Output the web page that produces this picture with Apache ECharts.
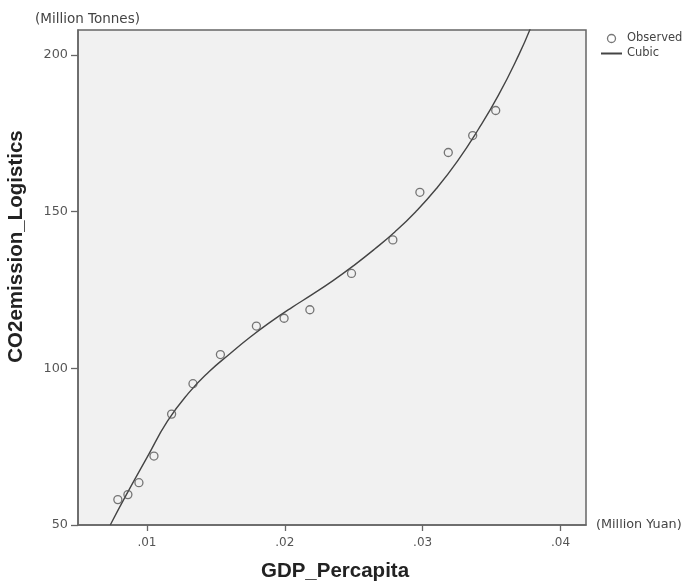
<!DOCTYPE html>
<html>
<head>
<meta charset="utf-8">
<script src="https://cdn.jsdelivr.net/npm/echarts@6/dist/echarts.min.js"></script>
<style>
  html, body { margin: 0; padding: 0; background: #fff; }
  #chart { width: 688px; height: 583px; }
</style>
</head>
<body>
<div id="chart"></div>
<script>
// Observed points
const gdpObserved = [0.00789, 0.00862, 0.00942, 0.01051, 0.01179, 0.01334, 0.01533, 0.01794,
                     0.01995, 0.02182, 0.02484, 0.02784, 0.02980, 0.03186, 0.03363, 0.03530];
const co2Observed = [58.1, 59.7, 63.5, 72.0, 85.4, 95.1, 104.4, 113.5,
                     116.0, 118.7, 130.3, 141.0, 156.2, 168.9, 174.3, 182.3];
// Cubic fit line
const gdpCurve = [0.00734, 0.0085, 0.0100, 0.0115, 0.0130, 0.0145, 0.0160, 0.0175, 0.0190,
                  0.0205, 0.0220, 0.0235, 0.0250, 0.0265, 0.0280, 0.0295, 0.0310, 0.0325,
                  0.0340, 0.0355, 0.0370, 0.0378];
const co2Curve = [50, 59.6, 71.5, 83.2, 92.0, 98.9, 104.6, 110.0, 114.9,
                  119.4, 123.6, 128.0, 132.8, 138.0, 143.6, 150.0, 157.4, 166.0,
                  176.0, 187.2, 200.3, 208.3];
// Tick labels
const xTicks = [0.01, 0.02, 0.03, 0.04];
const yTicks = [50, 100, 150, 200];

const observed = gdpObserved.map((x, i) => [x, co2Observed[i]]);
const cubic = gdpCurve.map((x, i) => [x, co2Curve[i]]);

const chart = echarts.init(document.getElementById('chart'), null, { renderer: 'canvas' });
const labelFont = 'DejaVu Sans';
const titleFont = 'Liberation Sans';
const xMin = 0.005, xMax = 0.04185;
const markStyle = { color: 'rgba(0,0,0,0)', borderColor: '#555', borderWidth: 1.3 };

chart.setOption({
  animation: false,
  backgroundColor: '#ffffff',
  title: [{
    text: '(Million Tonnes)',
    left: 35, top: 12, padding: 0,
    textStyle: { fontFamily: labelFont, fontSize: 13.5, fontWeight: 'normal', color: '#444' }
  }],
  legend: {
    orient: 'vertical',
    left: 600, top: 32, padding: 0,
    itemWidth: 21, itemHeight: 8, itemGap: 2,
    textStyle: { fontFamily: labelFont, fontSize: 11.5, color: '#444', lineHeight: 13 },
    data: [
      { name: 'Observed', icon: 'circle', itemStyle: markStyle },
      { name: 'Cubic', itemStyle: { color: 'rgba(0,0,0,0)', borderWidth: 0, opacity: 0 } }
    ]
  },
  grid: {
    left: 78, right: 102, top: 30, bottom: 58,
    outerBoundsMode: 'none', containLabel: false,
    show: true, backgroundColor: '#f1f1f1', borderColor: '#666', borderWidth: 1.5
  },
  xAxis: [{
    type: 'value', min: xMin, max: xMax,
    name: '(Million Yuan)', nameLocation: 'end', nameGap: 10,
    nameTextStyle: { fontFamily: labelFont, fontSize: 12.8, color: '#444', verticalAlign: 'middle' },
    splitLine: { show: false },
    axisLine: { lineStyle: { color: '#666', width: 1.5 } },
    axisTick: { customValues: xTicks, length: 6, lineStyle: { color: '#666', width: 1.3 } },
    axisLabel: {
      customValues: xTicks, margin: 12,
      fontFamily: labelFont, fontSize: 12, color: '#555',
      formatter: v => v.toFixed(2).replace(/^0/, '')
    }
  }, {
    type: 'value', min: xMin, max: xMax, position: 'bottom',
    name: 'GDP_Percapita', nameLocation: 'middle', nameGap: 36,
    nameTextStyle: { fontFamily: titleFont, fontSize: 20.5, fontWeight: 'bold', color: '#222', padding: [0, 0, 0, 6] },
    axisLine: { show: false }, axisTick: { show: false }, axisLabel: { show: false }, splitLine: { show: false }
  }],
  yAxis: {
    type: 'value', min: 50, max: 208,
    name: 'CO2emission_Logistics', nameLocation: 'middle', nameGap: 51, nameRotate: 90,
    nameTextStyle: { fontFamily: titleFont, fontSize: 20.5, fontWeight: 'bold', color: '#222', padding: [0, 0, 0, 62] },
    splitLine: { show: false },
    axisLine: { show: true, lineStyle: { color: '#666', width: 1.5 } },
    axisTick: { show: true, customValues: yTicks, length: 7, lineStyle: { color: '#666', width: 1.3 } },
    axisLabel: {
      customValues: yTicks, margin: 10,
      fontFamily: labelFont, fontSize: 12.8, color: '#555'
    }
  },
  series: [{
    name: 'Observed', type: 'scatter', data: observed,
    symbol: 'circle', symbolSize: 8,
    itemStyle: markStyle,
    z: 3
  }, {
    name: 'Cubic', type: 'line', data: cubic, smooth: 0.5,
    showSymbol: false, symbol: 'none', clip: true,
    lineStyle: { color: '#444', width: 1.4 },
    itemStyle: { color: '#444' },
    z: 2
  }]
});
</script>
</body>
</html>
